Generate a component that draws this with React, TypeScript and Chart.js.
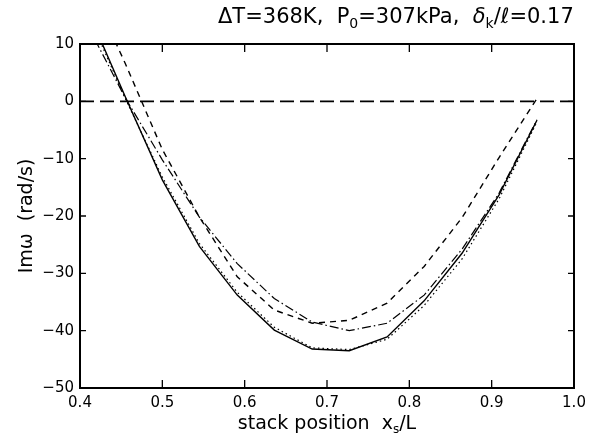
import React, { useEffect, useRef } from "react";
import { Chart, registerables } from "chart.js";

Chart.register(...registerables);

// Stack positions x_s/L (sample points of the curves)
const stackPositions = [0.409, 0.455, 0.5, 0.545, 0.591, 0.636, 0.682, 0.727, 0.773, 0.818, 0.864, 0.909, 0.955];
// Im(omega) (rad/s) for each curve
const solidValues = [16, 0.8, -13.7, -25.3, -33.8, -39.9, -43.2, -43.5, -41.1, -34.8, -26.5, -16.3, -3.3];
const dottedValues = [15.5, 0.5, -13.2, -24.8, -33.3, -39.4, -43.0, -43.3, -41.5, -35.6, -27.5, -17.0, -3.6];
const dashDotValues = [13.3, 0.6, -10.2, -20.2, -28.3, -34.4, -38.5, -40.0, -38.7, -33.8, -25.8, -16.0, -3.2];
const dashedValues = [21, 6.6, -8.4, -20.2, -30.6, -36.4, -38.7, -38.2, -35.2, -28.8, -20.3, -9.8, 0.5];
// Reference zero line
const zeroLineX = [0.4, 1.0];
const zeroLineY = [0, 0];

const xTicks = [0.4, 0.5, 0.6, 0.7, 0.8, 0.9, 1.0];
const yTicks = [-50, -40, -30, -20, -10, 0, 10];

type Seg = { t: string; sub?: boolean; it?: boolean };

const FONT = "'DejaVu Sans', 'Liberation Sans', Arial, sans-serif";

function drawRich(ctx: CanvasRenderingContext2D, segs: Seg[], x: number, y: number, size: number, align: "left" | "center") {
  const fontFor = (s: Seg) => `${s.it ? "italic " : ""}${s.sub ? Math.round(size * 0.65) : size}px ${FONT}`;
  let total = 0;
  const widths = segs.map((s) => {
    ctx.font = fontFor(s);
    const w = ctx.measureText(s.t).width;
    total += w;
    return w;
  });
  let cx = align === "center" ? x - total / 2 : x;
  ctx.textBaseline = "middle";
  ctx.textAlign = "left";
  segs.forEach((s, i) => {
    ctx.font = fontFor(s);
    ctx.fillText(s.t, cx, s.sub ? y + size * 0.32 : y);
    cx += widths[i];
  });
}

const framePlugin = {
  id: "frameAndLabels",
  afterDraw(chart: any) {
    const { ctx, chartArea } = chart;
    const { left, right, top, bottom } = chartArea;
    const xs = chart.scales.x;
    const ys = chart.scales.y;
    ctx.save();
    ctx.strokeStyle = "#000";
    ctx.fillStyle = "#000";
    ctx.lineWidth = 2;
    ctx.strokeRect(left, top, right - left, bottom - top);
    ctx.lineWidth = 1.3;
    ctx.beginPath();
    xTicks.forEach((v) => {
      const px = xs.getPixelForValue(v);
      ctx.moveTo(px, bottom);
      ctx.lineTo(px, bottom - 8);
      ctx.moveTo(px, top);
      ctx.lineTo(px, top + 8);
    });
    yTicks.forEach((v) => {
      const py = ys.getPixelForValue(v);
      ctx.moveTo(left, py);
      ctx.lineTo(left + 6, py);
      ctx.moveTo(right, py);
      ctx.lineTo(right - 6, py);
    });
    ctx.stroke();

    // Title
    drawRich(
      ctx,
      [
        { t: "ΔT=368K,  P" },
        { t: "0", sub: true },
        { t: "=307kPa,  " },
        { t: "δ", it: true },
        { t: "k", sub: true },
        { t: "/" },
        { t: "ℓ", it: true },
        { t: "=0.17" },
      ],
      218,
      18,
      21,
      "left"
    );
    // X axis title
    drawRich(
      ctx,
      [{ t: "stack position  x" }, { t: "s", sub: true }, { t: "/L" }],
      (left + right) / 2,
      424,
      19,
      "center"
    );
    // Y axis title
    ctx.save();
    ctx.translate(27, (top + bottom) / 2);
    ctx.rotate(-Math.PI / 2);
    drawRich(ctx, [{ t: "Imω  (rad/s)" }], 0, 0, 19, "center");
    ctx.restore();
    ctx.restore();
  },
};

const toPoints = (xs: number[], ys: number[]) => xs.map((x, i) => ({ x, y: ys[i] }));

export default function App() {
  const ref = useRef<HTMLCanvasElement | null>(null);
  useEffect(() => {
    if (!ref.current) return;
    const base = {
      borderColor: "#000",
      backgroundColor: "#000",
      pointRadius: 0,
      fill: false,
      tension: 0,
    };
    const chart = new Chart(ref.current, {
      type: "line",
      data: {
        datasets: [
          { ...base, label: "zero", data: toPoints(zeroLineX, zeroLineY), borderWidth: 1.6, borderDash: [14, 6] },
          { ...base, label: "solid", data: toPoints(stackPositions, solidValues), borderWidth: 1.4 },
          { ...base, label: "dotted", data: toPoints(stackPositions, dottedValues), borderWidth: 1.2, borderDash: [1.5, 3] },
          { ...base, label: "dash-dot", data: toPoints(stackPositions, dashDotValues), borderWidth: 1.2, borderDash: [9, 3, 1.5, 3] },
          { ...base, label: "dashed", data: toPoints(stackPositions, dashedValues), borderWidth: 1.4, borderDash: [6, 5] },
        ],
      },
      options: {
        animation: false,
        responsive: false,
        maintainAspectRatio: false,
        devicePixelRatio: 1,
        layout: { padding: { left: 0, right: 26, top: 44, bottom: 0 } },
        plugins: { legend: { display: false }, tooltip: { enabled: false }, title: { display: false } },
        scales: {
          x: {
            type: "linear",
            min: 0.4,
            max: 1.0,
            grid: { display: false, drawTicks: false },
            border: { display: false },
            afterFit: (s: any) => {
              s.height = 54;
            },
            afterBuildTicks: (s: any) => {
              s.ticks = xTicks.map((v) => ({ value: v }));
            },
            ticks: {
              padding: 6,
              color: "#000",
              font: { family: FONT, size: 15 },
              callback: (v: any) => Number(v).toFixed(1),
            },
          },
          y: {
            type: "linear",
            min: -50,
            max: 10,
            grid: { display: false, drawTicks: false },
            border: { display: false },
            afterFit: (s: any) => {
              s.width = 80;
            },
            afterBuildTicks: (s: any) => {
              s.ticks = yTicks.map((v) => ({ value: v }));
            },
            ticks: {
              padding: 6,
              color: "#000",
              font: { family: FONT, size: 15 },
              callback: (v: any) => (Number(v) < 0 ? "−" + Math.abs(Number(v)) : String(v)),
            },
          },
        },
      },
      plugins: [framePlugin],
    });
    return () => chart.destroy();
  }, []);
  return (
    <div style={{ position: "fixed", left: 0, top: 0, width: 600, height: 442, background: "#fff" }}>
      <canvas ref={ref} width={600} height={442} style={{ width: 600, height: 442, display: "block" }} />
    </div>
  );
}
